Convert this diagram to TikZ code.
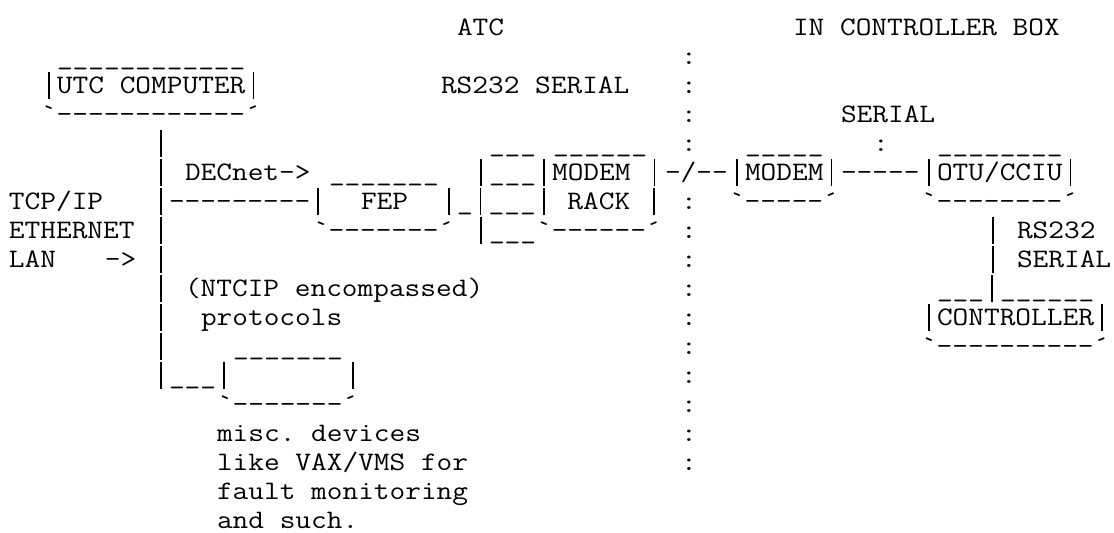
\documentclass[tikz,border=0pt]{standalone}
\usepackage{tikz}

% one cell of the grid = one typewriter character
\tikzset{
  ascii/.style={anchor=base west, inner sep=0pt, outer sep=0pt,
                font=\ttfamily\fontsize{17.5}{19}\selectfont\frenchspacing},
}
\newcommand{\glyphs}[3]{%
  \node[ascii] (#1) at (#2) {\scalebox{1.142857}[1]{#3}};}
\newcommand{\rep}[2]{\foreach \k in {1,...,#1}{#2}}
% a bar as tall as a line, so the walls join up
\newcommand{\vb}{\makebox[0.525em]{\rule[-0.22em]{0.05em}{1.02em}}}
% box corners
\newcommand{\lc}{`}
\newcommand{\rc}{´}

\begin{document}
\begin{tikzpicture}[x=10.5pt, y=-19.03pt]
  \useasboundingbox (-0.5625,-1.224) rectangle (69.0625,17.155);

  % headings
  \glyphs{atc}{28,0}{ATC}
  \glyphs{boxhead}{49,0}{IN CONTROLLER BOX}

  % UTC computer
  \glyphs{utctop}{3,1}{\rep{12}{\_}}
  \glyphs{utc}{2,2}{\vb UTC COMPUTER\vb}
  \glyphs{utcbot}{2,3}{\lc\rep{12}{-}\rc}
  \glyphs{rsser}{27,2}{RS232 SERIAL}

  % the : divider, cut once by the line
  \foreach \r in {1,2,3,4,6,7,8,9,10,11,12,13,14,15} {\glyphs{div\r}{42,\r}{:}}

  % ethernet trunk
  \foreach \r in {4,5,6,7,8,9,10,11,12} {\glyphs{lan\r}{9,\r}{\vb}}
  \glyphs{tcp}{0,6}{TCP/IP}
  \glyphs{eth}{0,7}{ETHERNET}
  \glyphs{lanlbl}{0,8}{LAN}
  \glyphs{lanarr}{6,8}{->}

  % FEP
  \glyphs{decnet}{11,5}{DECnet->}
  \glyphs{feptop}{20,5}{\rep{7}{\_}}
  \glyphs{feplink}{10,6}{\rep{9}{-}\vb}
  \glyphs{fep}{22,6}{FEP}
  \glyphs{fepbot}{19,7}{\lc\rep{7}{-}\rc}

  % modem rack
  \glyphs{slottop}{30,4}{\rep{3}{\_}}
  \glyphs{racktop}{34,4}{\rep{6}{\_}}
  \glyphs{rack1}{29,5}{\vb\rep{3}{\_}\vb MODEM \vb}
  \glyphs{rack2}{27,6}{\vb\_\vb\rep{3}{\_}\vb{} RACK \vb}
  \glyphs{rack3}{29,7}{\vb\rep{3}{\_}\lc\rep{6}{-}\rc}

  % line out to the controller box
  \glyphs{line}{41,5}{-/\rep{2}{-}}
  \glyphs{modtop}{46,4}{\rep{5}{\_}}
  \glyphs{modem}{45,5}{\vb MODEM\vb}
  \glyphs{modbot}{45,6}{\lc\rep{5}{-}\rc}
  \glyphs{serlbl}{52,3}{SERIAL}
  \glyphs{serdot}{54,4}{:}
  \glyphs{serline}{52,5}{\rep{5}{-}}
  \glyphs{otutop}{58,4}{\rep{8}{\_}}
  \glyphs{otu}{57,5}{\vb OTU/CCIU\vb}
  \glyphs{otubot}{57,6}{\lc\rep{8}{-}\rc}

  % controller
  \glyphs{rsbar1}{61,7}{\vb}
  \glyphs{rsbar2}{61,8}{\vb}
  \glyphs{rslbl1}{63,7}{RS232}
  \glyphs{rslbl2}{63,8}{SERIAL}
  \glyphs{ctltop}{58,9}{\rep{3}{\_}\vb\rep{6}{\_}}
  \glyphs{ctl}{57,10}{\vb CONTROLLER\vb}
  \glyphs{ctlbot}{57,11}{\lc\rep{10}{-}\rc}

  % misc devices
  \glyphs{ntcip}{11,9}{(NTCIP encompassed)}
  \glyphs{proto}{12,10}{protocols}
  \glyphs{misctop}{14,11}{\rep{7}{\_}}
  \glyphs{misc}{10,12}{\rep{3}{\_}\vb}
  \glyphs{miscwall}{21,12}{\vb}
  \glyphs{miscbot}{13,13}{\lc\rep{7}{-}\rc}
  \glyphs{note1}{13,14}{misc. devices}
  \glyphs{note2}{13,15}{like VAX/VMS for}
  \glyphs{note3}{13,16}{fault monitoring}
  \glyphs{note4}{13,17}{and such.}
\end{tikzpicture}
\end{document}
